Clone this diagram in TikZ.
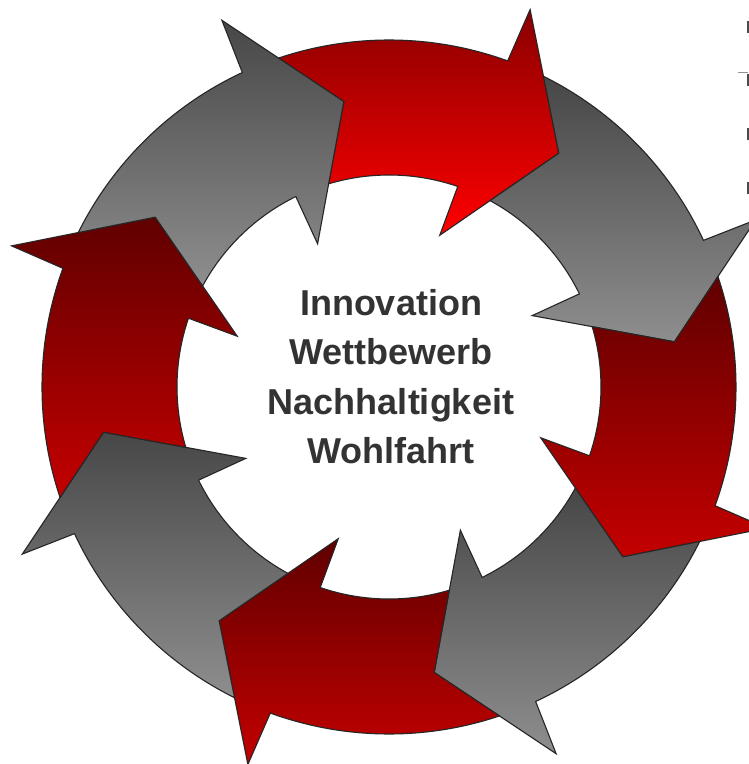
\documentclass[tikz,border=0pt]{standalone}
\usepackage{fontspec}
\setmainfont{Liberation Sans}
\definecolor{redAtop}{HTML}{8A0000}
\definecolor{redAbot}{HTML}{FF0000}
\definecolor{redtop}{HTML}{600000}
\definecolor{redbot}{HTML}{C40000}
\definecolor{graytop}{HTML}{474747}
\definecolor{graybot}{HTML}{8E8E8E}
\definecolor{txtgray}{HTML}{333333}
\definecolor{tickgray}{HTML}{4A4A4A}
\tikzset{
  cyclearrow/.style={draw=black!85, line width=1.1pt, line join=miter},
  lbl/.style={text=txtgray, font=\fontsize{36}{44}\selectfont\bfseries, inner sep=0pt, anchor=base},
  tickmark/.style={fill=tickgray}
}
% #1 tip angle, #2 top colour, #3 bottom colour
\newcommand\cyclearr[3]{%
  \path[cyclearrow, top color=#2, bottom color=#3]
    ({#1+54.57}:347) arc[start angle={#1+54.57}, end angle={#1+16}, radius=347]
    -- ({#1+15.5}:403) -- (#1:289) -- ({#1+17.5}:160) -- ({#1+17.07}:212)
    arc[start angle={#1+17.07}, end angle={#1+52.53}, radius=212]
    -- ({#1+45}:289) -- cycle;}
\begin{document}
\begin{tikzpicture}[x=1pt,y=1pt]
\useasboundingbox (-389,-377) rectangle (360,387);
\fill[white] (-389,-377) rectangle (360,387);
% eight arrows, clockwise
\cyclearr{54}{redAtop}{redAbot}
\cyclearr{9}{graytop}{graybot}
\cyclearr{-36}{redtop}{redbot}
\cyclearr{-81}{graytop}{graybot}
\cyclearr{-126}{redtop}{redbot}
\cyclearr{-171}{graytop}{graybot}
\cyclearr{-216}{redtop}{redbot}
\cyclearr{-261}{graytop}{graybot}
% centre text
\node[lbl] (t1) at (2,72) {Innovation};
\node[lbl] (t2) at (2,22.5) {Wettbewerb};
\node[lbl] (t3) at (2,-27) {Nachhaltigkeit};
\node[lbl] (t4) at (2,-76.5) {Wohlfahrt};
% cropped marks at the top right
\fill[tickmark] (357.7,354.3) rectangle (360,366.3);
\fill[tickmark] (357.7,301) rectangle (360,313);
\draw[tickgray!60, line width=0.8pt] (349.3,314.3) -- (359.3,314.3);
\fill[tickmark] (357.7,247) rectangle (360,259);
\fill[tickmark] (357.7,193) rectangle (360,205);
\end{tikzpicture}
\end{document}
